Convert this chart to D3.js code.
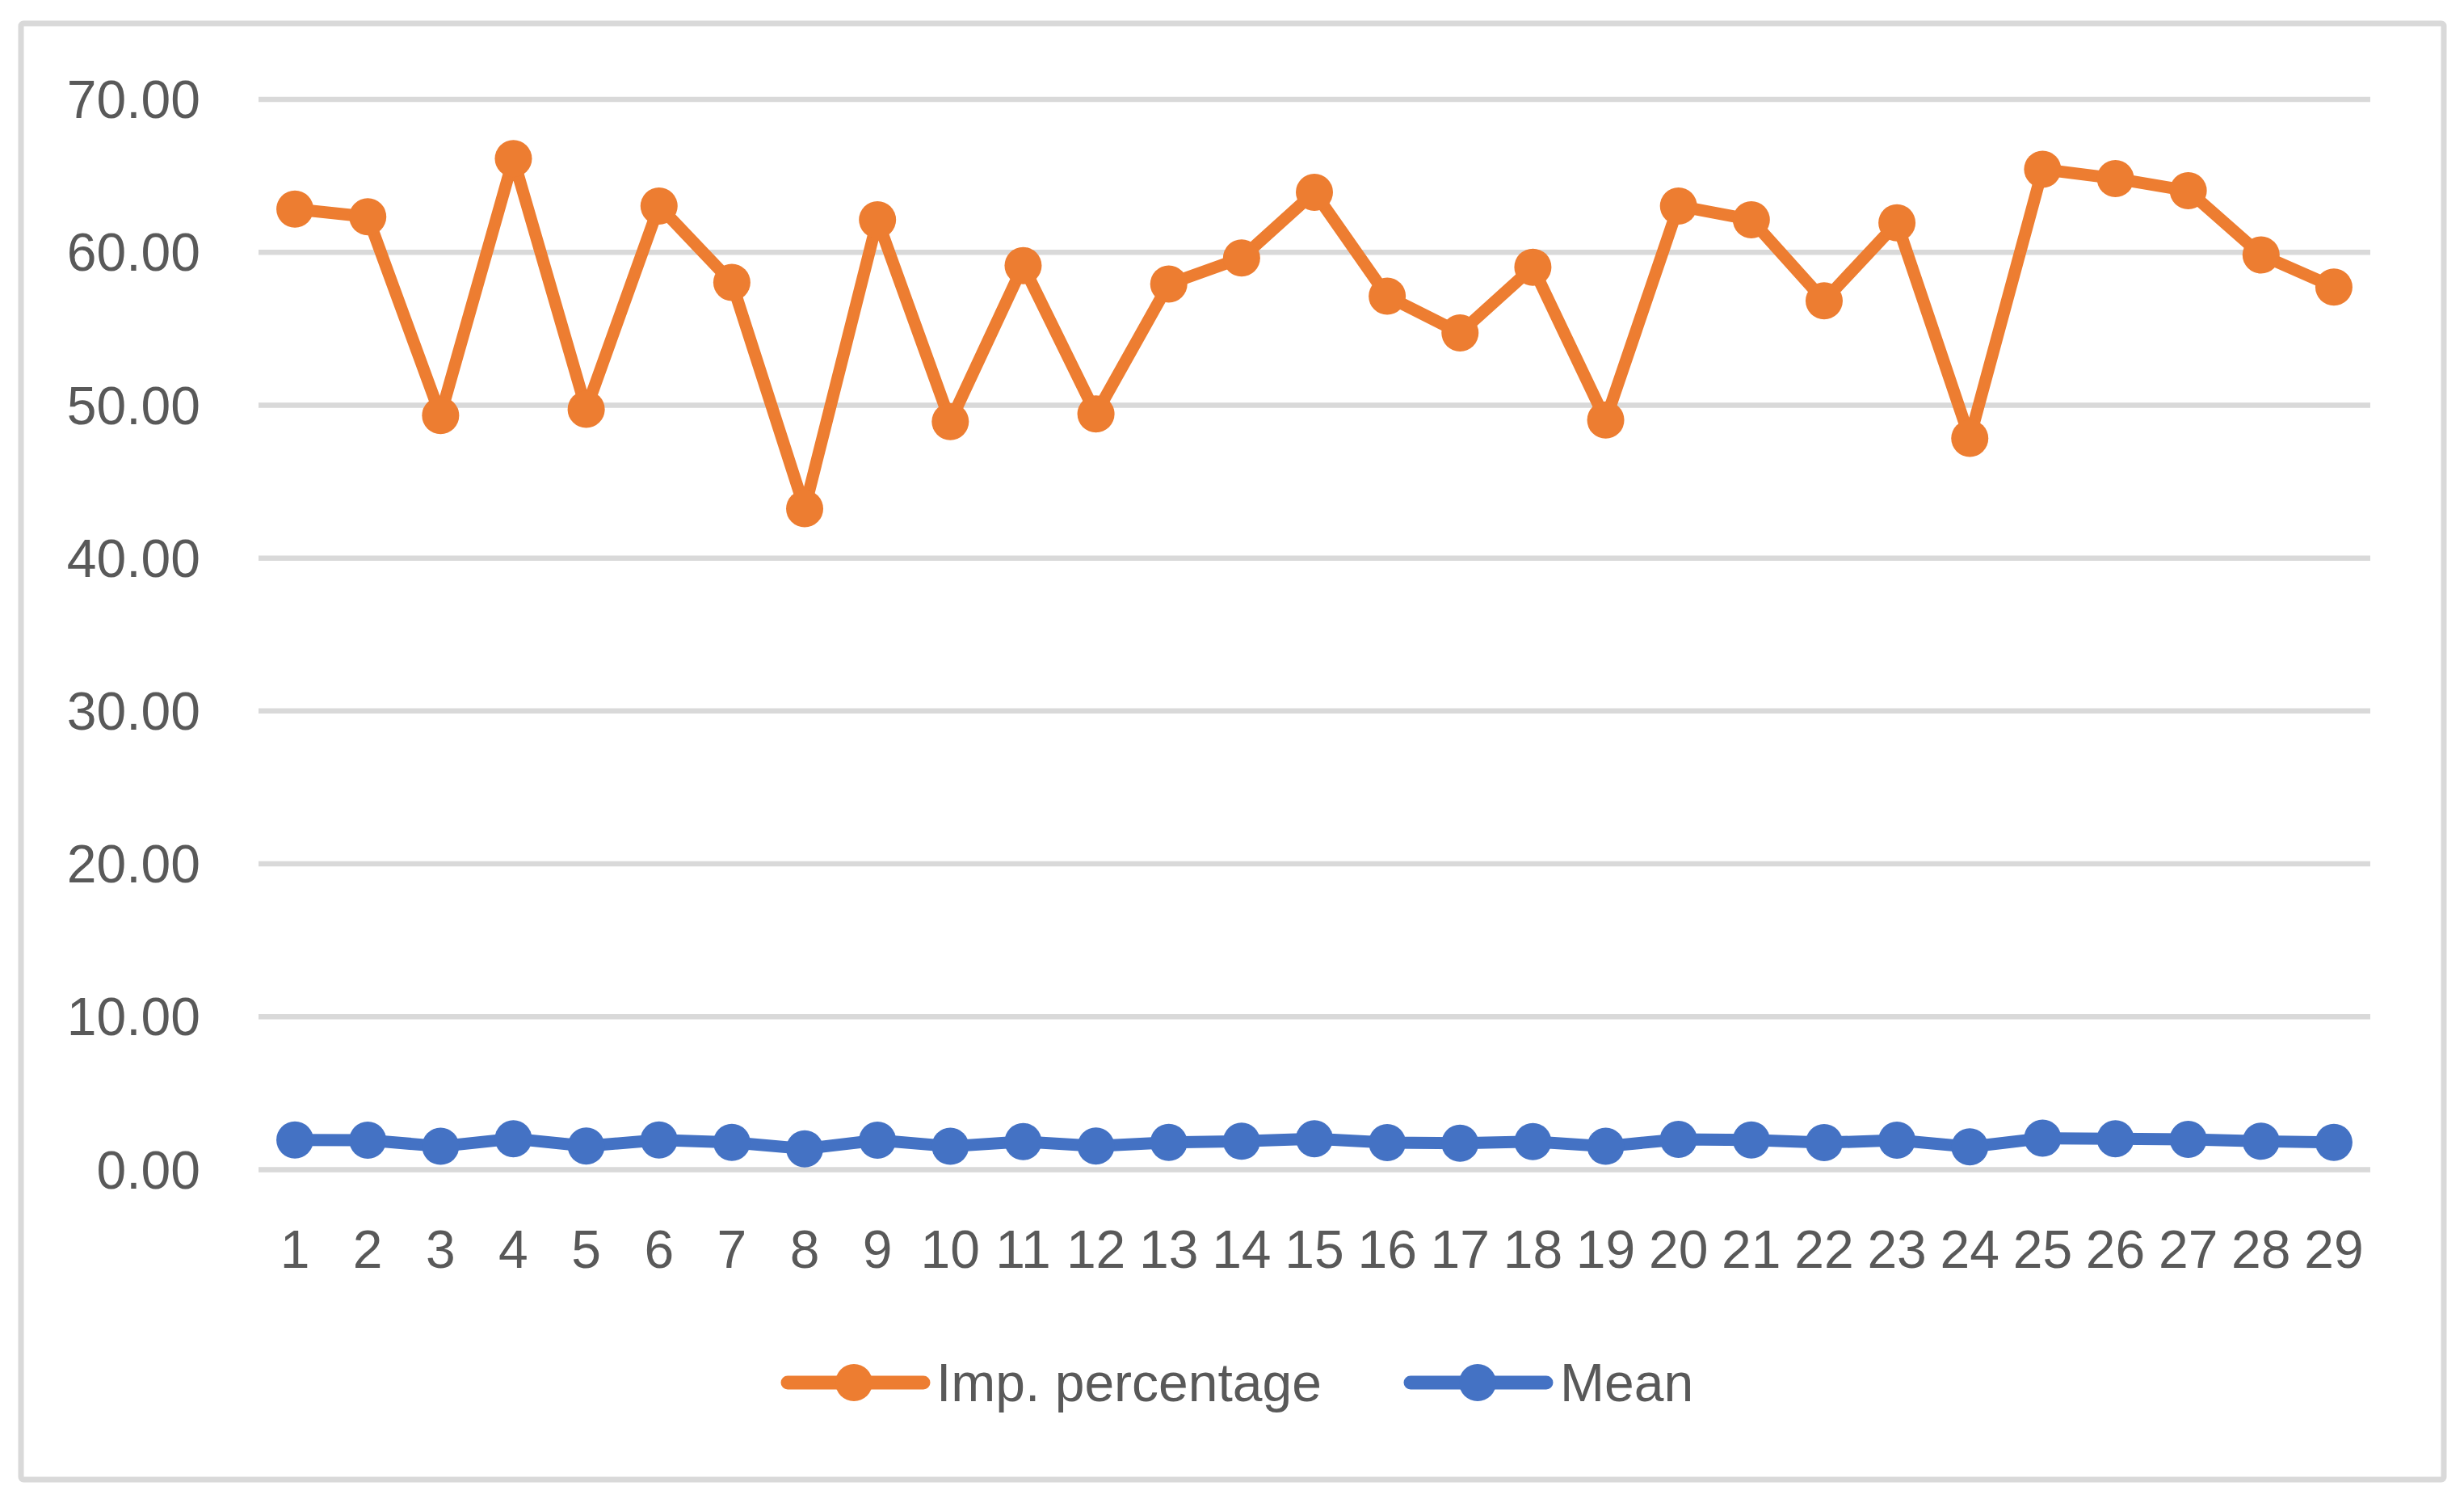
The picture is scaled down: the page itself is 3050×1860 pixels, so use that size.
<!DOCTYPE html>
<html>
<head>
<meta charset="utf-8">
<script src="https://cdn.jsdelivr.net/npm/d3@7"></script>
<style>
  html, body { margin: 0; padding: 0; background: #ffffff; }
  svg { display: block; }
  text { font-family: "Liberation Sans", Arial, sans-serif; fill: #595959; }
</style>
</head>
<body>
<svg id="chart" width="3050" height="1860"></svg>
<script>
const categories = ["1","2","3","4","5","6","7","8","9","10","11","12","13","14","15","16","17","18","19","20","21","22","23","24","25","26","27","28","29"];
const impPercentage = [62.8, 62.3, 49.3, 66.1, 49.7, 63.0, 58.0, 43.2, 62.1, 48.9, 59.1, 49.4, 57.9, 59.6, 63.9, 57.1, 54.7, 59.0, 49.0, 63.0, 62.1, 56.8, 61.9, 47.8, 65.4, 64.8, 64.0, 59.8, 57.7];
const meanValues = [1.92, 1.90, 1.50, 2.00, 1.52, 1.92, 1.76, 1.34, 1.90, 1.50, 1.81, 1.52, 1.76, 1.83, 2.00, 1.74, 1.70, 1.81, 1.50, 1.96, 1.92, 1.74, 1.90, 1.47, 2.03, 1.99, 1.96, 1.83, 1.76];
const yTicks = [0, 10, 20, 30, 40, 50, 60, 70];
const seriesNames = ["Imp. percentage", "Mean"];
const seriesColors = ["#ED7D31", "#4472C4"];

const svg = d3.select("#chart");
const W = 3050, H = 1860;
const plot = { left: 320, right: 2934, top: 122.5, bottom: 1447 };

// outer border
svg.append("rect")
  .attr("x", 26).attr("y", 29)
  .attr("width", 3025 - 26).attr("height", 1831 - 29)
  .attr("rx", 3)
  .attr("fill", "#ffffff")
  .attr("stroke", "#d9d9d9")
  .attr("stroke-width", 7);

const x = d3.scaleBand().domain(categories).range([plot.left, plot.right]);
const y = d3.scaleLinear().domain([0, 70]).range([plot.bottom, plot.top]);
const cx = c => x(c) + x.bandwidth() / 2;

// y axis with gridlines
const yAxis = d3.axisLeft(y)
  .tickValues(yTicks)
  .tickFormat(d3.format(".2f"))
  .tickSize(-(plot.right - plot.left))
  .tickPadding(72);
const gy = svg.append("g").attr("transform", `translate(${plot.left},0)`).call(yAxis);
gy.select(".domain").remove();
gy.selectAll(".tick line").attr("stroke", "#d9d9d9").attr("stroke-width", 6.5);
gy.selectAll(".tick text")
  .attr("font-size", 66)
  .attr("font-family", "Liberation Sans, Arial, sans-serif")
  .attr("fill", "#595959")
  .attr("dy", "0.35em");

// x axis labels
const xAxis = d3.axisBottom(x).tickSize(0).tickPadding(0);
const gx = svg.append("g").attr("transform", `translate(0,${plot.bottom})`).call(xAxis);
gx.select(".domain").remove();
gx.selectAll(".tick text")
  .attr("font-size", 66)
  .attr("font-family", "Liberation Sans, Arial, sans-serif")
  .attr("fill", "#595959")
  .attr("y", 122)
  .attr("dy", "0");

// series
const series = [impPercentage, meanValues];
const line = d3.line().x((d, i) => cx(categories[i])).y(d => y(d));

series.forEach((vals, si) => {
  const g = svg.append("g");
  g.append("path")
    .datum(vals)
    .attr("d", line)
    .attr("fill", "none")
    .attr("stroke", seriesColors[si])
    .attr("stroke-width", 15)
    .attr("stroke-linejoin", "round")
    .attr("stroke-linecap", "round");
  g.selectAll("circle")
    .data(vals)
    .join("circle")
    .attr("cx", (d, i) => cx(categories[i]))
    .attr("cy", d => y(d))
    .attr("r", 23)
    .attr("fill", seriesColors[si]);
});

// legend
const legendItems = [
  { x0: 975, x1: 1143, mx: 1057, tx: 1159 },
  { x0: 1746, x1: 1914, mx: 1829, tx: 1931 }
];
const legY = 1711;
legendItems.forEach((it, i) => {
  const g = svg.append("g");
  g.append("line")
    .attr("x1", it.x0).attr("x2", it.x1)
    .attr("y1", legY).attr("y2", legY)
    .attr("stroke", seriesColors[i])
    .attr("stroke-width", 17)
    .attr("stroke-linecap", "round");
  g.append("circle")
    .attr("cx", it.mx).attr("cy", legY).attr("r", 23)
    .attr("fill", seriesColors[i]);
  g.append("text")
    .attr("x", it.tx).attr("y", 1734)
    .attr("font-size", 66)
    .attr("fill", "#595959")
    .text(seriesNames[i]);
});
</script>
</body>
</html>
